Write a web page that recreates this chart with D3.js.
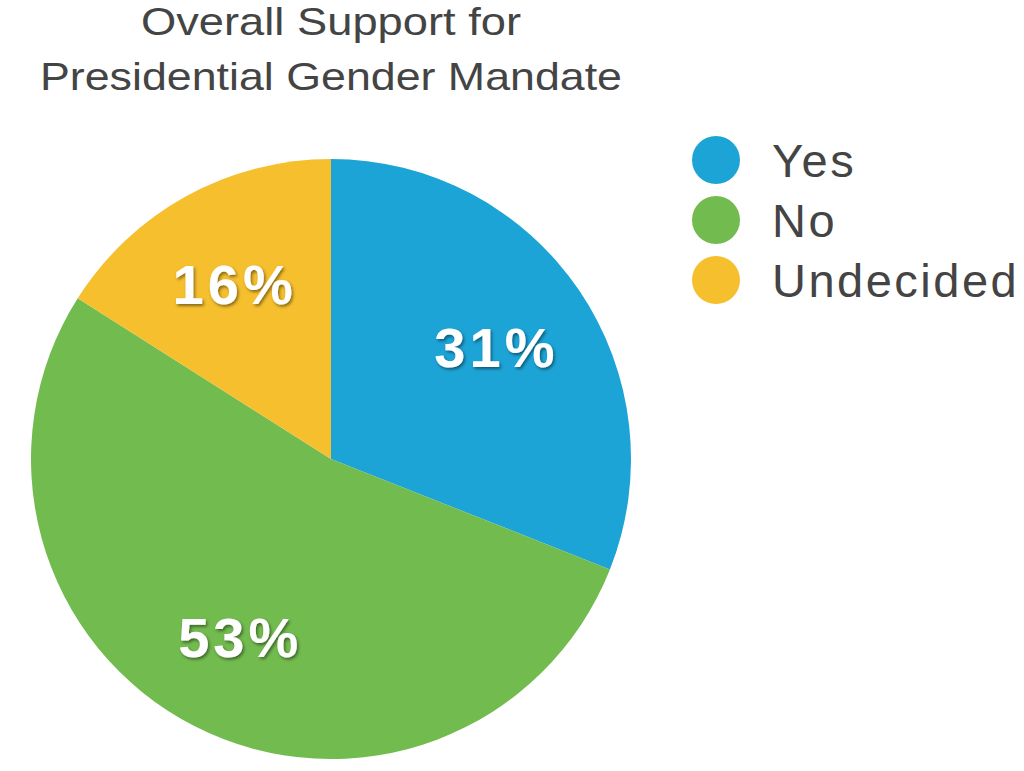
<!DOCTYPE html>
<html><head><meta charset="utf-8">
<script src="https://cdn.jsdelivr.net/npm/d3@7"></script>
<style>body{margin:0;background:#fff}svg{display:block}</style>
</head><body>
<script>
const categories = ["Yes", "No", "Undecided"];
const values = [31, 53, 16];
const colors = ["#1ca4d7", "#72bb4f", "#f5bf2e"];
const titleLines = ["Overall Support for", "Presidential Gender Mandate"];

const W = 1024, H = 771;
const svg = d3.select("body").append("svg").attr("width", W).attr("height", H);
const defs = svg.append("defs");
const f = defs.append("filter").attr("id", "sh").attr("x", "-20%").attr("y", "-20%").attr("width", "140%").attr("height", "140%");
f.append("feDropShadow").attr("dx", 1.5).attr("dy", 2).attr("stdDeviation", 1.5).attr("flood-color", "#000").attr("flood-opacity", 0.45);

const cx = 331, cy = 459, R = 300;
const data = categories.map((c, i) => ({ cat: c, value: values[i], color: colors[i] }));
const pie = d3.pie().value(d => d.value).sort(null);
const arc = d3.arc().innerRadius(0).outerRadius(R);
const labelArc = d3.arc().innerRadius(200).outerRadius(200);
const g = svg.append("g").attr("transform", `translate(${cx},${cy})`);
const arcs = pie(data);
g.selectAll("path").data(arcs).join("path").attr("d", arc).attr("fill", d => d.data.color);
g.selectAll("text").data(arcs).join("text")
  .attr("transform", d => `translate(${labelArc.centroid(d)})`)
  .attr("text-anchor", "middle").attr("dy", "0.36em")
  .attr("font-family", "Liberation Sans, Arial, sans-serif").attr("font-weight", "bold")
  .attr("font-size", 56).attr("letter-spacing", 4).attr("fill", "#fff").attr("filter", "url(#sh)")
  .text(d => d.data.value + "%");

// title
const tw = [380, 582];
svg.selectAll("text.title").data(titleLines).join("text").attr("class", "title")
  .attr("x", cx).attr("y", (d, i) => 35 + i * 55)
  .attr("text-anchor", "middle")
  .attr("font-family", "Liberation Sans, Arial, sans-serif").attr("font-size", 39)
  .attr("fill", "#444").attr("textLength", (d, i) => tw[i]).attr("lengthAdjust", "spacingAndGlyphs")
  .text(d => d);

// legend
const lg = svg.append("g").attr("transform", "translate(716,160)");
const li = lg.selectAll("g").data(data).join("g").attr("transform", (d, i) => `translate(0,${i * 60})`);
li.append("circle").attr("r", 24).attr("fill", d => d.color);
li.append("text").attr("x", 56).attr("y", 17)
  .attr("font-family", "Liberation Sans, Arial, sans-serif").attr("font-size", 47)
  .attr("letter-spacing", 2.5)
  .attr("fill", "#444").text(d => d.cat);
</script>
</body></html>
